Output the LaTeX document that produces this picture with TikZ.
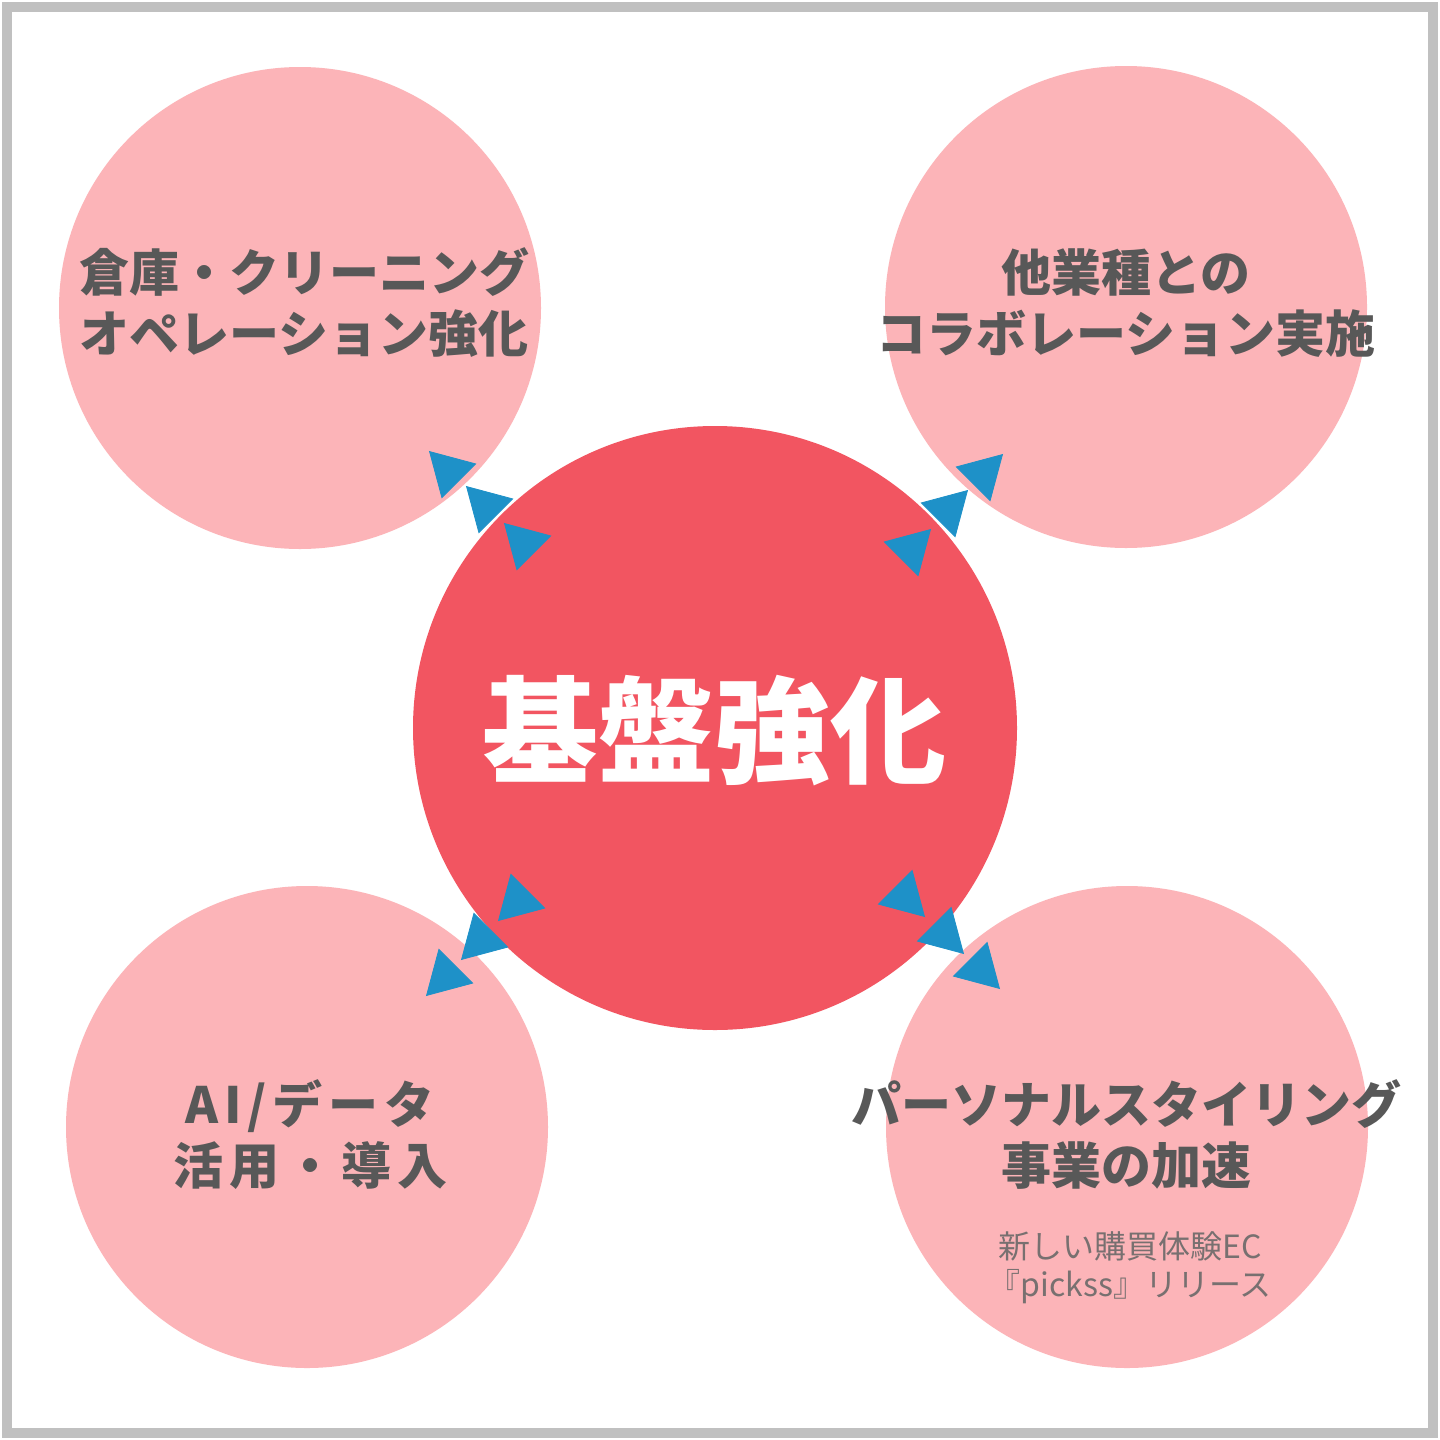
\documentclass[tikz,border=0pt]{standalone}
\usepackage{fontspec}
\usetikzlibrary{shapes.geometric}
\newfontfamily\cjk{Noto Sans CJK JP}
\newfontfamily\cjkwide[LetterSpace=12]{Noto Sans CJK JP}
\definecolor{pinkc}{RGB}{252,180,184}
\definecolor{redc}{RGB}{242,85,97}
\definecolor{bluec}{RGB}{30,145,200}
\definecolor{textc}{RGB}{88,88,88}
\definecolor{subc}{RGB}{120,112,112}
\definecolor{framec}{RGB}{192,192,192}
\tikzset{
  outer/.style={circle, fill=pinkc, inner sep=0pt, minimum size=482pt},
  core/.style={circle, fill=redc, inner sep=0pt, minimum size=604pt},
  lbl/.style={align=center, text=textc, font=\cjk\bfseries\fontsize{50}{61}\selectfont, inner sep=0pt},
  widelbl/.style={align=center, text=textc, font=\cjkwide\bfseries\fontsize{50}{61}\selectfont, inner sep=0pt},
  corelbl/.style={text=white, font=\cjk\bfseries\fontsize{116}{120}\selectfont, inner sep=0pt},
  sublbl/.style={align=center, text=subc, font=\cjk\fontsize{32}{38}\selectfont, inner sep=0pt},
  tri/.style={regular polygon, regular polygon sides=3, fill=bluec, draw=bluec, line width=0.8pt, inner sep=0pt, minimum size=55pt}
}
\begin{document}
\begin{tikzpicture}[x=1pt,y=-1pt]
\useasboundingbox (0,0) rectangle (1440,1440);
\fill[white] (0,0) rectangle (1440,1440);
\draw[framec, line width=10pt] (7,7) rectangle (1433,1433);

\node[outer] (tl) at (300,308) {};
\node[outer] (tr) at (1126,307) {};
\node[outer] (bl) at (307,1127) {};
\node[outer] (br) at (1127,1127) {};
\node[core] (c) at (715,728) {};

\node[lbl] (tltext) at (304,303) {倉庫・クリーニング\\オペレーション強化};
\node[lbl] (trtext) at (1126,303) {他業種との\\コラボレーション実施};
\node[widelbl] (bltext) at (310,1135) {AI/データ\\活用・導入};
\node[lbl] (brtext) at (1126,1134) {パーソナルスタイリング\\事業の加速};
\node[sublbl] (brsub) at (1130,1268) {新しい購買体験EC\\『pickss』リリース};
\node[corelbl] (ctext) at (714,731) {基盤強化};

\node[tri, rotate=45] (tl1) at (449,471) {};
\node[tri, rotate=45] (tl2) at (486,506) {};
\node[tri, rotate=45] (tl3) at (524,543) {};
\node[tri, rotate=-45] (tr1) at (983,474) {};
\node[tri, rotate=-45] (tr2) at (948,510) {};
\node[tri, rotate=-45] (tr3) at (911,549) {};
\node[tri, rotate=135] (bl1) at (518,901) {};
\node[tri, rotate=135] (bl2) at (481,940) {};
\node[tri, rotate=135] (bl3) at (446,976) {};
\node[tri, rotate=-135] (br1) at (905,897) {};
\node[tri, rotate=-135] (br2) at (944,934) {};
\node[tri, rotate=-135] (br3) at (980,969) {};
\end{tikzpicture}
\end{document}
